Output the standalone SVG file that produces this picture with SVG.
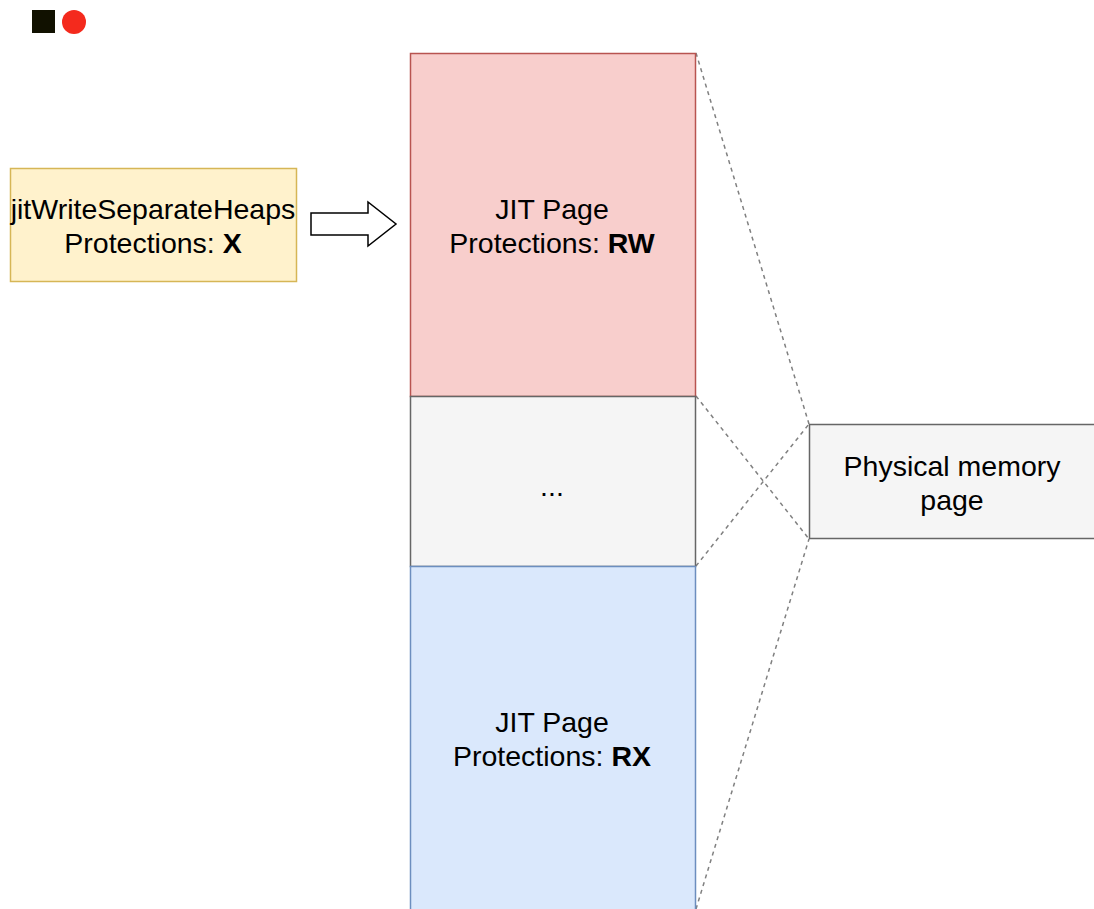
<svg xmlns="http://www.w3.org/2000/svg" width="1094" height="909" viewBox="0 0 1094 909">
<style>
text{font-family:"Liberation Sans",Arial,sans-serif;font-size:28.5px;text-anchor:middle;dominant-baseline:central;fill:#000}
.b{font-weight:bold}
.dash{stroke:#808080;stroke-width:1.5;stroke-dasharray:4 4;fill:none}
</style>
<rect width="1094" height="909" fill="#fff"/>
<g id="icons">
<rect x="32" y="10" width="23" height="23" fill="#111100"/>
<circle cx="74" cy="22" r="12" fill="#f42a1d"/>
</g>
<g id="connectors">
<line class="dash" x1="696" y1="53" x2="809" y2="424"/>
<line class="dash" x1="696" y1="396" x2="809" y2="539"/>
<line class="dash" x1="696" y1="566" x2="809" y2="424"/>
<line class="dash" x1="696" y1="909" x2="809" y2="539"/>
<path d="M311,213 L368,213 L368,202 L396,224 L368,246 L368,235 L311,235 Z" fill="#fff" stroke="#000" stroke-width="1.5"/>
</g>
<g id="heaps">
<rect x="10.5" y="168.5" width="286" height="113" fill="#fff2cc" stroke="#d6b656" stroke-width="1.5"/>
<text x="153" y="209">jitWriteSeparateHeaps</text>
<text x="153" y="243">Protections: <tspan class="b">X</tspan></text>
</g>
<g id="rw">
<rect x="410.5" y="53.5" width="285" height="343" fill="#f8cecc" stroke="#b85450" stroke-width="1.5"/>
<text x="552" y="209">JIT Page</text>
<text x="552" y="243">Protections: <tspan class="b">RW</tspan></text>
</g>
<g id="gap">
<rect x="410.5" y="396.5" width="285" height="170" fill="#f5f5f5" stroke="#666" stroke-width="1.5"/>
<text x="552" y="486" fill="#333">...</text>
</g>
<g id="rx">
<rect x="410.5" y="566.5" width="285" height="350" fill="#dae8fc" stroke="#6c8ebf" stroke-width="1.5"/>
<text x="552" y="722">JIT Page</text>
<text x="552" y="756">Protections: <tspan class="b">RX</tspan></text>
</g>
<g id="phys">
<rect x="809.5" y="424.5" width="290" height="114" fill="#f5f5f5" stroke="#666" stroke-width="1.5"/>
<text x="952" y="466" fill="#333">Physical memory</text>
<text x="952" y="500" fill="#333">page</text>
</g>
</svg>
